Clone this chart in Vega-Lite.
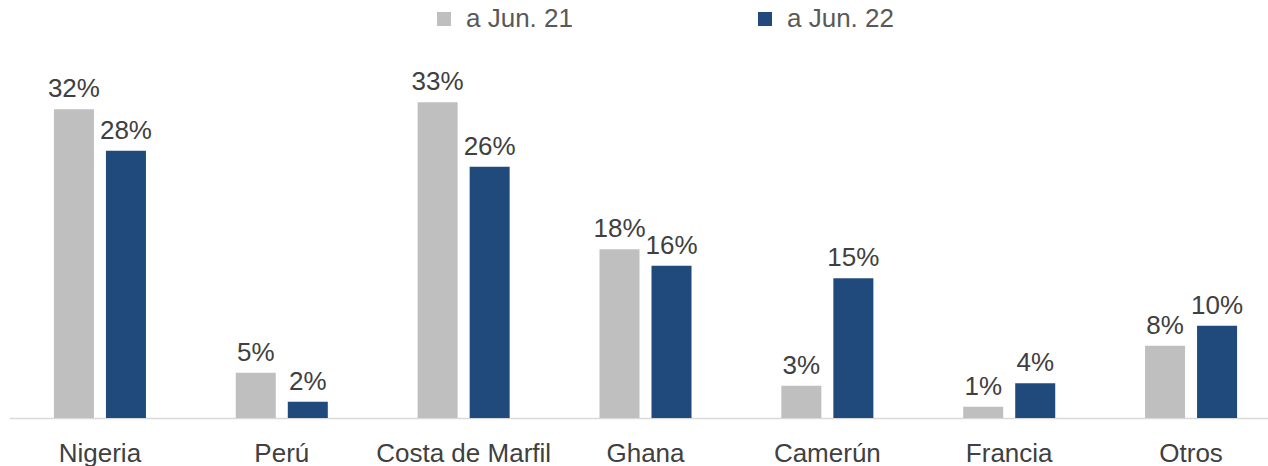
{
  "$schema": "https://vega.github.io/schema/vega-lite/v6.json",
  "width": 1273,
  "height": 418,
  "autosize": {"type": "none"},
  "padding": {"left": 9, "top": 0, "right": 0, "bottom": 48},
  "background": "white",
  "data": {
    "values": [
      {"pais": "Nigeria", "serie": "a Jun. 21", "valor": 0.3216},
      {"pais": "Nigeria", "serie": "a Jun. 22", "valor": 0.2784},
      {"pais": "Perú", "serie": "a Jun. 21", "valor": 0.0472},
      {"pais": "Perú", "serie": "a Jun. 22", "valor": 0.0170},
      {"pais": "Costa de Marfil", "serie": "a Jun. 21", "valor": 0.3290},
      {"pais": "Costa de Marfil", "serie": "a Jun. 22", "valor": 0.2618},
      {"pais": "Ghana", "serie": "a Jun. 21", "valor": 0.1757},
      {"pais": "Ghana", "serie": "a Jun. 22", "valor": 0.1587},
      {"pais": "Camerún", "serie": "a Jun. 21", "valor": 0.0337},
      {"pais": "Camerún", "serie": "a Jun. 22", "valor": 0.1455},
      {"pais": "Francia", "serie": "a Jun. 21", "valor": 0.0118},
      {"pais": "Francia", "serie": "a Jun. 22", "valor": 0.0361},
      {"pais": "Otros", "serie": "a Jun. 21", "valor": 0.0752},
      {"pais": "Otros", "serie": "a Jun. 22", "valor": 0.0962}
    ]
  },
  "encoding": {
    "x": {
      "field": "pais", "type": "nominal", "sort": null,
      "scale": {"paddingInner": 0, "paddingOuter": 0},
      "axis": {"title": null, "labelAngle": 0, "ticks": false, "domain": true, "domainColor": "#d9d9d9", "domainWidth": 1.5,
               "labelFont": "Liberation Sans", "labelFontSize": 26, "labelColor": "#404040", "labelPadding": 22, "grid": false}
    },
    "xOffset": {
      "field": "serie", "type": "nominal",
      "scale": {"paddingInner": 0.2308, "paddingOuter": 0.8635}
    },
    "y": {
      "field": "valor", "type": "quantitative",
      "scale": {"domain": [0, 0.4354], "nice": false, "zero": true},
      "axis": null
    }
  },
  "layer": [
    {
      "mark": {"type": "bar"},
      "encoding": {
        "color": {
          "field": "serie", "type": "nominal",
          "scale": {"domain": ["a Jun. 21", "a Jun. 22"], "range": ["#bfbfbf", "#1f4a7b"]},
          "legend": {
            "title": null, "orient": "none", "direction": "horizontal",
            "legendX": 422, "legendY": 6,
            "symbolType": "square", "symbolSize": 196, "symbolStrokeWidth": 0,
            "labelFont": "Liberation Sans", "labelFontSize": 26, "labelColor": "#595959",
            "labelOffset": 9, "columnPadding": 179, "padding": 0
          }
        }
      }
    },
    {
      "mark": {"type": "text", "baseline": "alphabetic", "dy": -12, "font": "Liberation Sans", "fontSize": 26, "color": "#404040"},
      "encoding": {
        "text": {"field": "valor", "type": "quantitative", "format": ".0%"}
      }
    }
  ],
  "config": {
    "view": {"stroke": null}
  }
}
